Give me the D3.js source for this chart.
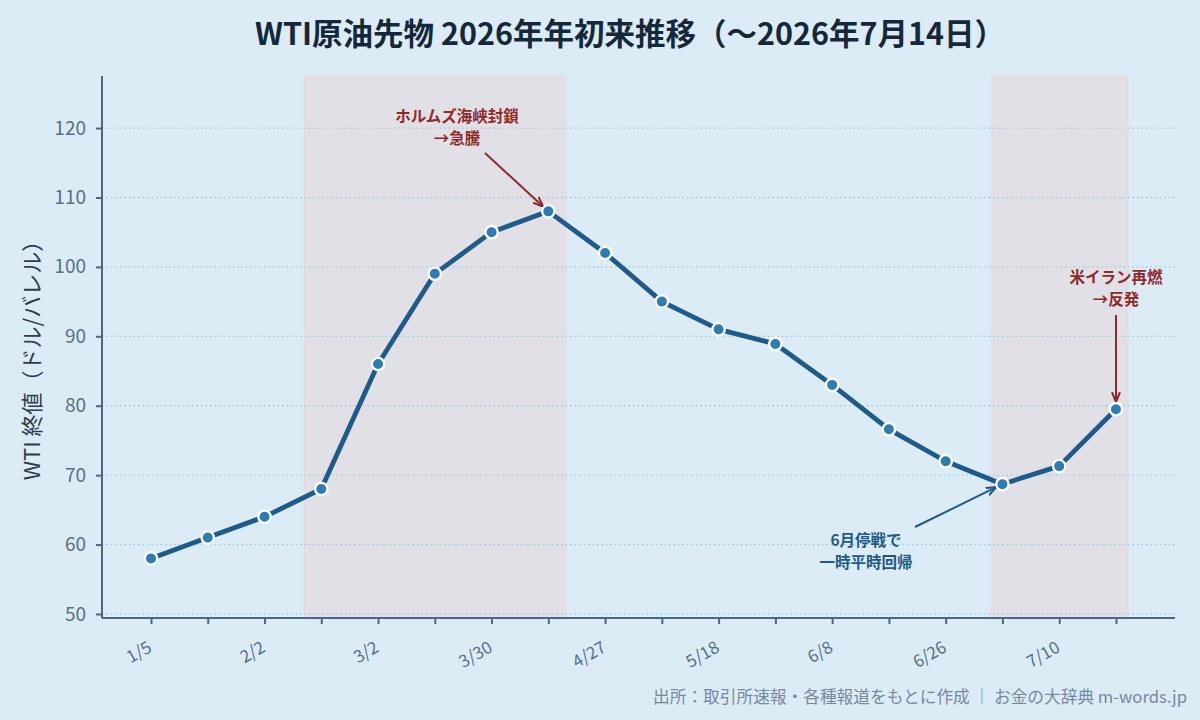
<!DOCTYPE html>
<html><head><meta charset="utf-8">
<script src="https://cdn.jsdelivr.net/npm/d3@7/dist/d3.min.js"></script>
<style>
html,body{margin:0;padding:0;background:#dcecf6;}
svg{display:block;font-family:"Noto Sans CJK JP","Noto Sans",sans-serif;}
</style></head><body>
<svg id="c" width="1200" height="720"></svg>
<script>
const dates = ["1/5","1/19","2/2","2/16","3/2","3/16","3/30","4/13","4/27","5/8","5/18","5/28","6/8","6/17","6/26","7/3","7/10","7/14"];
const prices = [58,61,64,68,86,99,105,108,102,95,91,88.9,83,76.6,72,68.7,71.3,79.5];
const yTicks = [50,60,70,80,90,100,110,120];
const shadeSpans = [[2.7,7.31],[14.8,17.21]];
const annotations = [
  {lines:["ホルムズ海峡封鎖","→急騰"], idx:7, color:"#8e2a2a", tx:457, ty:116, ax:[485,153]},
  {lines:["米イラン再燃","→反発"], idx:17, color:"#8e2a2a", tx:1116, ty:277, ax:[1116,315]},
  {lines:["6月停戦で","一時平時回帰"], idx:15, color:"#1f5a8a", tx:866, ty:540, ax:[915,527]}
];

const svg = d3.select("#c");
const W=1200,H=720;
const m={l:102,r:1175,t:76,b:618};
svg.append("rect").attr("width",W).attr("height",H).attr("fill","#dcecf6");

const x = d3.scaleLinear().domain([-0.863,18.04]).range([m.l,m.r]);
const y = d3.scaleLinear().domain([49.42,127.5]).range([m.b,m.t]);

svg.selectAll(".shade").data(shadeSpans).join("rect")
  .attr("x",d=>x(d[0])).attr("width",d=>x(d[1])-x(d[0]))
  .attr("y",m.t).attr("height",m.b-m.t)
  .attr("fill","#e2e0e7").attr("stroke","#ecd6dc").attr("stroke-width",1);

svg.selectAll(".grid").data(yTicks).join("line")
  .attr("x1",m.l).attr("x2",m.r).attr("y1",d=>y(d)).attr("y2",d=>y(d))
  .attr("stroke","#9fc6df").attr("stroke-width",1.3).attr("stroke-dasharray","1.5,3");

const ya = svg.append("g").attr("transform",`translate(${m.l},0)`)
  .call(d3.axisLeft(y).tickValues(yTicks).tickSize(6).tickPadding(10));
const xa = svg.append("g").attr("transform",`translate(0,${m.b})`)
  .call(d3.axisBottom(x).tickValues(d3.range(dates.length)).tickSize(6)
     .tickFormat((d,i)=> i%2===0 ? dates[d] : ""));
[ya,xa].forEach(g=>{
  g.select(".domain").attr("stroke","#4d6780").attr("stroke-width",2);
  g.selectAll(".tick line").attr("stroke","#4d6780").attr("stroke-width",2);
  g.selectAll("text").attr("fill","#587089").attr("font-size",19).attr("font-family","'Noto Sans CJK JP',sans-serif");
});
ya.select(".domain").attr("d",`M0,${m.t}V${m.b}`);
xa.select(".domain").attr("d",`M${m.l},0H${m.r}`);
xa.selectAll("text").attr("text-anchor","end").attr("font-size",17)
  .attr("dy",0).attr("transform","translate(-3,25) rotate(-30)");

svg.append("text").attr("transform",`translate(40,${(m.t+m.b)/2+8}) rotate(-90)`)
  .attr("text-anchor","middle").attr("font-size",22).attr("fill","#2b3d4f")
  .text("WTI 終値（ドル/バレル）");

const line = d3.line().x((d,i)=>x(i)).y(d=>y(d));
svg.append("path").datum(prices).attr("d",line).attr("fill","none")
  .attr("stroke","#1e5a8a").attr("stroke-width",4.8).attr("stroke-linejoin","round").attr("stroke-linecap","round");
svg.selectAll(".pt").data(prices).join("circle")
  .attr("cx",(d,i)=>x(i)).attr("cy",d=>y(d)).attr("r",6.2)
  .attr("fill","#2c7db4").attr("stroke","#ffffff").attr("stroke-width",2.4);

const defs = svg.append("defs");
annotations.forEach((a,k)=>{
  defs.append("marker").attr("id","ah"+k).attr("viewBox","0 0 10 10").attr("refX",9).attr("refY",5)
    .attr("markerWidth",5).attr("markerHeight",5).attr("orient","auto-start-reverse")
    .append("path").attr("d","M0,1 L10,5 L0,9").attr("fill","none").attr("stroke",a.color).attr("stroke-width",2);
  const px=x(a.idx), py=y(prices[a.idx]);
  const dx=px-a.ax[0], dy=py-a.ax[1], L=Math.hypot(dx,dy);
  const ex=px-dx/L*8, ey=py-dy/L*8;
  svg.append("line").attr("x1",a.ax[0]).attr("y1",a.ax[1]).attr("x2",ex).attr("y2",ey)
    .attr("stroke",a.color).attr("stroke-width",2).attr("marker-end",`url(#ah${k})`);
  a.lines.forEach((s,j)=>svg.append("text").attr("text-anchor","middle").attr("font-size",15.5)
    .attr("font-weight","bold").attr("fill",a.color)
    .attr("x",a.tx).attr("y",a.ty+j*22+6).text(s));
});

svg.append("text").attr("x",630).attr("y",45).attr("text-anchor","middle")
  .attr("font-size",30.5).attr("font-weight","bold").attr("fill","#15283a")
  .text("WTI原油先物 2026年年初来推移（〜2026年7月14日）");

svg.append("text").attr("x",1187).attr("y",703).attr("text-anchor","end")
  .attr("font-size",16.7).attr("fill","#7689a0")
  .text("出所：取引所速報・各種報道をもとに作成 ｜ お金の大辞典 m-words.jp");
</script>
</body></html>
